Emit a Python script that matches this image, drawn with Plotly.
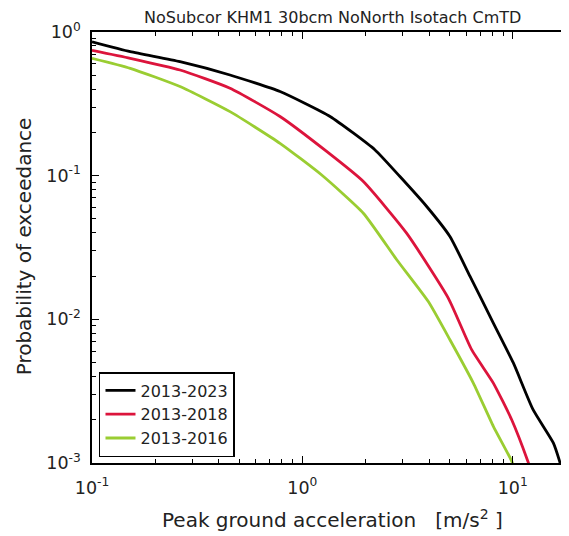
import plotly.graph_objects as go

# Data
pga_2023 = [0.1, 0.152, 0.262, 0.453, 0.783, 1.354, 2.216, 2.91, 3.9, 5.03, 6.27, 8.09, 10.07, 12.5, 15.6, 16.7, 17.5]
poe_2023 = [0.855, 0.73, 0.621, 0.502, 0.385, 0.258, 0.151, 0.0986, 0.061, 0.0377, 0.0199, 0.00942, 0.00497, 0.00235, 0.00138, 0.00103, 0.0008]

pga_2018 = [0.1, 0.152, 0.262, 0.453, 0.783, 1.3, 1.95, 3.13, 4.94, 6.38, 8.09, 9.89, 11.8, 12.5]
poe_2018 = [0.745, 0.656, 0.544, 0.406, 0.258, 0.148, 0.091, 0.0398, 0.01406, 0.00615, 0.0036, 0.002, 0.00103, 0.0008]

pga_2016 = [0.1, 0.152, 0.262, 0.453, 0.783, 1.236, 1.95, 2.81, 3.97, 5.03, 6.5, 8.09, 9.89, 10.5]
poe_2016 = [0.656, 0.559, 0.417, 0.279, 0.168, 0.101, 0.0548, 0.026, 0.0133, 0.00721, 0.0036, 0.0018, 0.00103, 0.0008]

series_names = ["2013-2023", "2013-2018", "2013-2016"]
series_colors = ["#000000", "#DC143C", "#9ACD32"]

x_tick_vals = [0.1, 1, 10]
x_tick_text = ["10<sup>-1</sup>", "10<sup>0</sup>", "10<sup>1</sup>"]
y_tick_vals = [0.001, 0.01, 0.1, 1]
y_tick_text = ["10<sup>-3</sup>", "10<sup>-2</sup>", "10<sup>-1</sup>", "10<sup>0</sup>"]

title_text = "NoSubcor KHM1 30bcm NoNorth Isotach CmTD"
x_title = "Peak ground acceleration   [m/s<sup>2</sup> ]"
y_title = "Probability of exceedance"

FONT = "DejaVu Sans"

fig = go.Figure()
for xs, ys, name, col in zip([pga_2023, pga_2018, pga_2016],
                             [poe_2023, poe_2018, poe_2016],
                             series_names, series_colors):
    fig.add_trace(go.Scatter(x=xs, y=ys, mode="lines", name=name,
                             line=dict(color=col, width=2.8,
                                       shape="spline", smoothing=0.5)))

minor_x = [m * 10 ** e for e in (-1, 0, 1) for m in range(2, 10)]
minor_y = [m * 10 ** e for e in (-3, -2, -1) for m in range(2, 10)]

# page body has an 8px margin; figure starts at (8, 8) in the window
OFF = 8
PAGE_W, PAGE_H = 569, 536
W, H = PAGE_W - OFF, PAGE_H - OFF
# target plot box in window pixels
PX0, PX1, PY0, PY1 = 91.5, 569, 32, 463.5
L, R, T, B = PX0 - OFF, 0, PY0 - OFF, PAGE_H - PY1
pw, ph = PX1 - PX0, PY1 - PY0


def px_to_paper_x(px):
    return (px - PX0) / pw


def py_to_paper_y(py):
    return (PY1 - py) / ph


axis_common = dict(
    showline=True, linecolor="black", linewidth=1.5,
    ticks="inside", ticklen=7, tickwidth=1, tickcolor="black",
    showgrid=False, zeroline=False,
    tickfont=dict(family=FONT, size=17.5, color="#222222"),
)

fig.update_xaxes(type="log", range=[-1, 1.2676], tickmode="array",
                 tickvals=x_tick_vals, ticktext=x_tick_text,
                 mirror="ticks", ticklabelstandoff=8,
                 minor=dict(tickvals=minor_x, ticks="inside", ticklen=4,
                            tickcolor="black", tickwidth=1),
                 **axis_common)
fig.update_yaxes(type="log", range=[-3, 0], tickmode="array",
                 tickvals=y_tick_vals, ticktext=y_tick_text,
                 ticklabelstandoff=6,
                 minor=dict(tickvals=minor_y, ticks="inside", ticklen=4,
                            tickcolor="black", tickwidth=1),
                 **axis_common)

fig.update_layout(
    width=W, height=H, autosize=False,
    margin=dict(l=L, r=R, t=T, b=B, pad=0),
    paper_bgcolor="white", plot_bgcolor="white",
    font=dict(family=FONT, color="black"),
    showlegend=True,
    legend=dict(x=px_to_paper_x(98.5), y=py_to_paper_y(457.5),
                xanchor="left", yanchor="bottom",
                bgcolor="white", bordercolor="black", borderwidth=1.5,
                font=dict(family=FONT, size=16, color="#222222")),
    annotations=[
        dict(text=title_text, xref="paper", yref="paper",
             x=px_to_paper_x(332.5), y=py_to_paper_y(17),
             xanchor="center", yanchor="middle", showarrow=False,
             font=dict(family=FONT, size=16, color="#222222")),
        dict(text=x_title, xref="paper", yref="paper",
             x=px_to_paper_x(332.5), y=py_to_paper_y(520),
             xanchor="center", yanchor="middle", showarrow=False,
             font=dict(family=FONT, size=20, color="#222222")),
        dict(text=y_title, xref="paper", yref="paper",
             x=px_to_paper_x(23), y=py_to_paper_y(247), textangle=-90,
             xanchor="center", yanchor="middle", showarrow=False,
             font=dict(family=FONT, size=20, color="#222222")),
    ],
)

fig.write_html("out.html")
